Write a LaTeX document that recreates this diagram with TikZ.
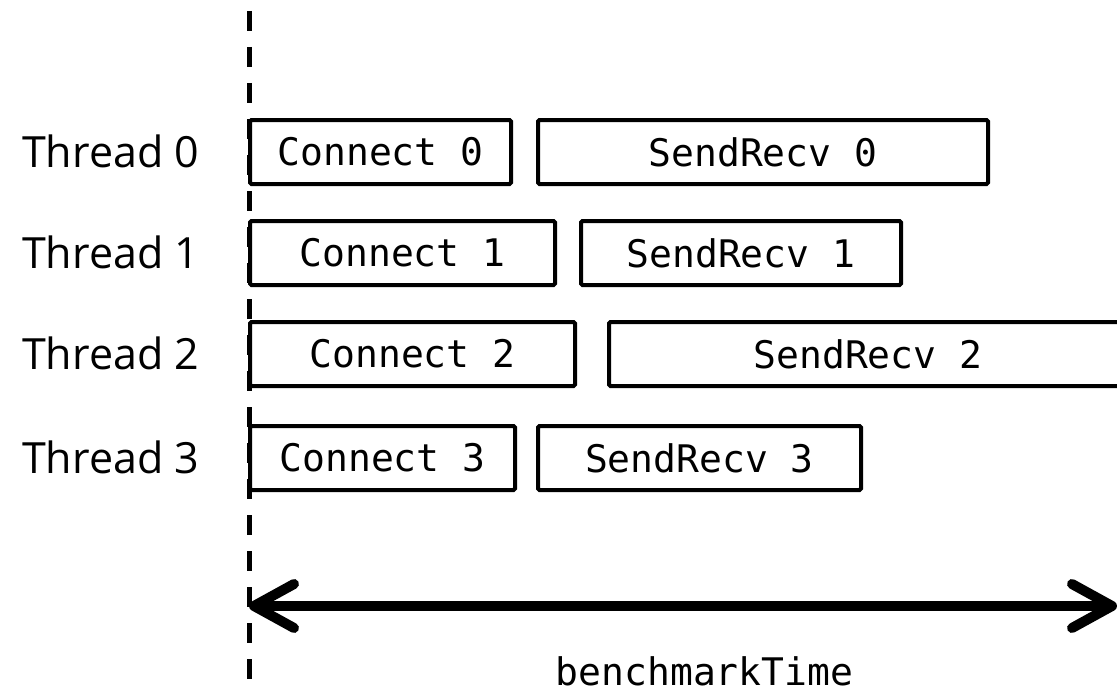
\documentclass[tikz,border=0pt]{standalone}
\usepackage{fontspec}
\setmainfont{Open Sans}
\setmonofont{DejaVu Sans Mono}
\usetikzlibrary{arrows.meta}
\begin{document}
\begin{tikzpicture}[x=1pt,y=-1pt,
  thread/.style={anchor=base west,inner sep=0pt,font=\fontsize{43}{50}\selectfont},
  task/.style={draw,line width=4pt,rounded corners=1.5pt,minimum height=64pt,
    inner sep=0pt,font=\ttfamily\fontsize{38}{44}\selectfont},
  barb/.tip={Straight Barb[length=40pt,width=44pt,round]},
  timeline/.style={line width=5pt,dash pattern=on 20pt off 16pt},
  span/.style={line width=10pt,barb-barb,shorten <=-2pt,shorten >=-2pt}]
\useasboundingbox (0,0) rectangle (1117,693);
\clip (0,0) rectangle (1117,693);

% start line
\coordinate (t0) at (249,11);
\coordinate (t1) at (249,700);
\draw[timeline] (t0) -- (t1);

% thread labels
\node[thread] (th0) at (22,167) {Thread 0};
\node[thread] (th1) at (22,268) {Thread 1};
\node[thread] (th2) at (22,369) {Thread 2};
\node[thread] (th3) at (22,473) {Thread 3};

% per-thread phases
\node[task,minimum width=261pt] (c0) at (380.5,152) {Connect 0};
\node[task,minimum width=450pt] (s0) at (763,152) {SendRecv 0};
\node[task,minimum width=305pt] (c1) at (402.5,253) {Connect 1};
\node[task,minimum width=320pt] (s1) at (741,253) {SendRecv 1};
\node[task,minimum width=325pt] (c2) at (412.5,354) {Connect 2};
\node[task,minimum width=518pt] (s2) at (868,354) {SendRecv 2};
\node[task,minimum width=265pt] (c3) at (382.5,458) {Connect 3};
\node[task,minimum width=323pt] (s3) at (699.5,458) {SendRecv 3};

% total duration
\coordinate (bl) at (251,606);
\coordinate (br) at (1115,606);
\draw[span] (bl) -- (br);
\node[anchor=base,inner sep=0pt,font=\ttfamily\fontsize{38}{44}\selectfont] (bt) at (704.5,685) {benchmarkTime};
\end{tikzpicture}
\end{document}
